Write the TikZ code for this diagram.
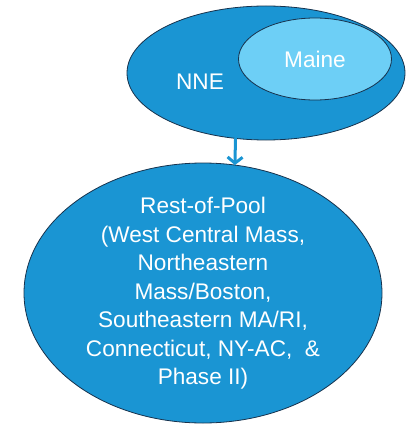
\documentclass[tikz,border=0pt]{standalone}
\usepackage{fontspec}
\setmainfont{Liberation Sans}
\usetikzlibrary{shapes.geometric,arrows.meta}
\definecolor{midblue}{HTML}{1A95D3}
\definecolor{lightblue}{HTML}{6DCFF6}
\definecolor{edge}{HTML}{17324D}
\tikzset{
  blob/.style={ellipse, draw=edge, line width=0.8pt, inner sep=0pt, outer sep=0pt},
  lbl/.style={text=white, font=\fontsize{22.6}{28.5}\selectfont, inner sep=0pt},
  link/.style={draw=midblue, line width=3pt, -{Straight Barb[length=6pt,width=15pt]}, line cap=round}
}
\begin{document}
\begin{tikzpicture}[x=1pt,y=-1pt]
\useasboundingbox (0,0) rectangle (406,425);
\node[blob, fill=midblue, minimum width=278, minimum height=134] (nne) at (266,73) {};
\node[blob, fill=lightblue, minimum width=153, minimum height=82, lbl] (maine) at (315,59) {Maine};
\node[lbl] (nnetext) at (200,82) {NNE};
\node[blob, fill=midblue, minimum width=358, minimum height=260] (rop) at (203,293) {};
\node[lbl, align=center] (roptext) at (203,293.5) {Rest-of-Pool\\(West Central Mass,\\Northeastern\\Mass/Boston,\\Southeastern MA/RI,\\Connecticut, NY-AC,~~\&\\Phase II)};
\draw[link] (nne.-115.5) -- (rop.76);
\end{tikzpicture}
\end{document}
